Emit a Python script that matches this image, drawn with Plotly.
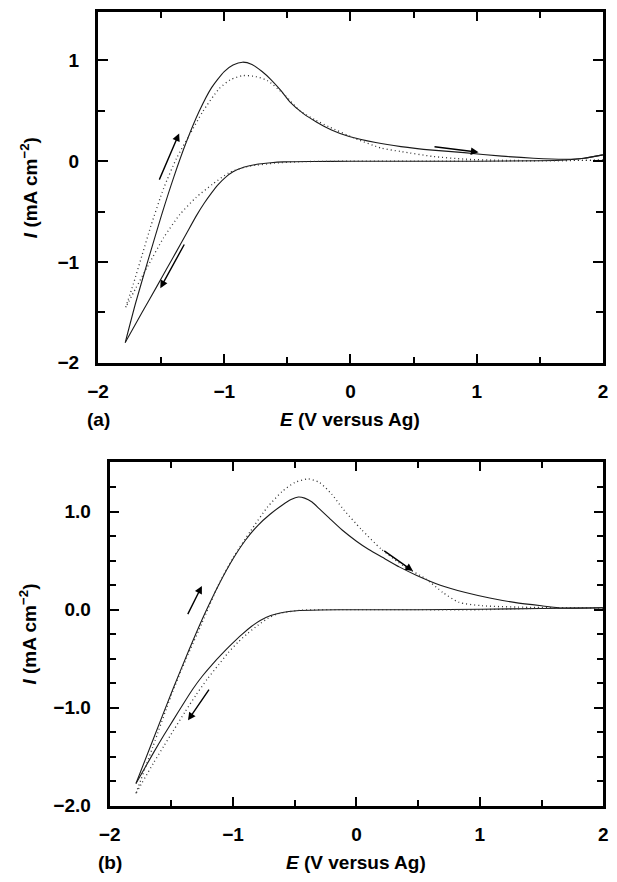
import plotly.graph_objects as go

# ---------------- data ----------------
# panel (a)
a_solid_cath_E = [2.0, 1.85, 1.7, 1.5, 1.0, 0.5, 0.0, -0.3, -0.53, -0.63, -0.75, -0.84, -0.93, -0.99,
                  -1.05, -1.10, -1.16, -1.22, -1.30, -1.38, -1.45, -1.53, -1.65, -1.784]
a_solid_cath_I = [0.063, 0.03, 0.012, 0.004, 0.0, 0.0, 0.0, -0.003, -0.007, -0.015, -0.032, -0.058, -0.105, -0.16,
                  -0.235, -0.315, -0.42, -0.54, -0.72, -0.90, -1.055, -1.235, -1.50, -1.80]
a_solid_an_E = [-1.784, -1.70, -1.60, -1.50, -1.40, -1.30, -1.20, -1.10, -1.00, -0.93, -0.855, -0.78, -0.70,
                -0.63, -0.55, -0.48, -0.37, -0.27, -0.15, -0.01, 0.2, 0.4, 0.65, 0.9, 1.2, 1.45, 1.7, 1.85, 2.0]
a_solid_an_I = [-1.80, -1.40, -0.97, -0.55, -0.16, 0.19, 0.49, 0.73, 0.89, 0.955, 0.983, 0.96, 0.89,
                0.81, 0.70, 0.59, 0.47, 0.39, 0.31, 0.245, 0.185, 0.145, 0.11, 0.085, 0.05, 0.03, 0.02, 0.03, 0.063]
a_dot_cath_E = [2.0, 1.5, 1.0, 0.5, 0.0, -0.4, -0.6, -0.75, -0.84, -0.966, -1.094, -1.223, -1.352, -1.48,
                -1.609, -1.70, -1.78]
a_dot_cath_I = [0.01, 0.005, 0.0, 0.0, 0.0, -0.005, -0.02, -0.04, -0.06, -0.117, -0.23, -0.36, -0.53, -0.76,
                -1.05, -1.26, -1.45]
a_dot_an_E = [-1.78, -1.72, -1.65, -1.58, -1.48, -1.377, -1.275, -1.171, -1.043, -0.95, -0.85, -0.75, -0.657,
              -0.529, -0.40, -0.28, -0.168, 0.037, 0.243, 0.40, 0.654, 0.912, 1.17, 1.5, 2.0]
a_dot_an_I = [-1.45, -1.22, -0.93, -0.64, -0.27, 0.03, 0.26, 0.49, 0.716, 0.81, 0.85, 0.84, 0.80,
              0.667, 0.50, 0.41, 0.34, 0.226, 0.13, 0.096, 0.047, 0.02, 0.01, 0.005, 0.01]

# panel (b)
b_solid_cath_E = [2.0, 1.5, 1.0, 0.5, 0.0, -0.3, -0.485, -0.6, -0.695, -0.78, -0.852, -0.93, -1.01, -1.09,
                  -1.168, -1.25, -1.326, -1.40, -1.484, -1.56, -1.642, -1.787]
b_solid_cath_I = [0.02, 0.012, 0.005, 0.0, 0.0, -0.003, -0.01, -0.028, -0.06, -0.11, -0.172, -0.255, -0.35, -0.452,
                  -0.558, -0.68, -0.81, -0.955, -1.125, -1.28, -1.455, -1.775]
b_solid_an_E = [-1.787, -1.64, -1.484, -1.36, -1.24, -1.12, -1.00, -0.90, -0.80, -0.70, -0.60, -0.53, -0.471,
                -0.42, -0.36, -0.30, -0.22, -0.116, 0.0, 0.1, 0.21, 0.35, 0.489, 0.68, 0.884, 1.08, 1.279,
                1.5, 1.673, 2.0]
b_solid_an_I = [-1.775, -1.30, -0.80, -0.42, -0.07, 0.245, 0.52, 0.71, 0.86, 0.975, 1.07, 1.125, 1.151,
                1.14, 1.10, 1.03, 0.935, 0.814, 0.70, 0.615, 0.535, 0.435, 0.35, 0.25, 0.176, 0.12, 0.075,
                0.04, 0.017, 0.02]
b_dot_cath_E = [2.0, 1.5, 1.0, 0.5, 0.0, -0.45, -0.642, -0.72, -0.80, -0.88, -0.958, -1.04, -1.116, -1.21,
                -1.30, -1.39, -1.484, -1.56, -1.642, -1.787]
b_dot_cath_I = [0.02, 0.015, 0.0, 0.0, 0.0, -0.005, -0.043, -0.09, -0.16, -0.24, -0.329, -0.44, -0.56, -0.71,
                -0.87, -1.045, -1.235, -1.39, -1.56, -1.876]
b_dot_an_E = [-1.787, -1.65, -1.50, -1.38, -1.25, -1.12, -0.99, -0.86, -0.72, -0.60, -0.50, -0.392, -0.30,
              -0.20, -0.116, 0.04, 0.2, 0.384, 0.568, 0.70, 0.831, 1.015, 1.41, 2.0]
b_dot_an_I = [-1.876, -1.40, -0.87, -0.50, -0.13, 0.25, 0.55, 0.80, 1.05, 1.21, 1.30, 1.336, 1.30,
              1.18, 1.04, 0.82, 0.62, 0.445, 0.31, 0.176, 0.075, 0.041, 0.024, 0.02]

# scan-direction arrows: (tail E, tail I, head E, head I)
a_arrows = [(-1.519, -0.198, -1.357, 0.275), (-1.31, -0.812, -1.506, -1.26), (0.654, 0.145, 1.015, 0.089)]
b_arrows = [(-1.373, -0.06, -1.253, 0.243), (-1.187, -0.80, -1.365, -1.13), (0.213, 0.612, 0.458, 0.395)]

x_ticks = [-2, -1, 0, 1, 2]
a_y_ticks = [-2, -1, 0, 1]
b_y_ticks = [-2.0, -1.0, 0.0, 1.0]

# ---------------- figure ----------------
FONT = "Liberation Sans"
SOLID = dict(color="#1a1a1a", width=1.1, shape="spline", smoothing=0.6)
DOTTED = dict(color="#333333", width=1.3, dash="1px,3px", shape="spline", smoothing=0.6)

fig = go.Figure()
for E, I, ln, xa, ya in [
    (a_solid_cath_E, a_solid_cath_I, SOLID, "x", "y"),
    (a_solid_an_E, a_solid_an_I, SOLID, "x", "y"),
    (a_dot_cath_E, a_dot_cath_I, DOTTED, "x", "y"),
    (a_dot_an_E, a_dot_an_I, DOTTED, "x", "y"),
    (b_solid_cath_E, b_solid_cath_I, SOLID, "x2", "y2"),
    (b_solid_an_E, b_solid_an_I, SOLID, "x2", "y2"),
    (b_dot_cath_E, b_dot_cath_I, DOTTED, "x2", "y2"),
    (b_dot_an_E, b_dot_an_I, DOTTED, "x2", "y2"),
]:
    fig.add_trace(go.Scatter(x=E, y=I, mode="lines", line=ln, xaxis=xa, yaxis=ya,
                             showlegend=False, hoverinfo="skip"))

tickfont = dict(family=FONT, size=19, color="black", weight="bold")
common = dict(showline=True, linewidth=3, linecolor="black", mirror="ticks",
              ticks="inside", tickwidth=2.2, tickcolor="black", showgrid=False,
              zeroline=False, tickfont=tickfont)
MINOR = dict(ticks="inside", tickwidth=2.2, tickcolor="black", tick0=0)

fig.update_layout(
    width=617, height=882, margin=dict(l=0, r=0, t=0, b=0),
    paper_bgcolor="white", plot_bgcolor="white", showlegend=False,
    xaxis=dict(domain=[0.1447, 0.9849], range=[-2, 2], anchor="y", tickvals=x_ticks, ticklen=9,
               ticklabelstandoff=10, minor=dict(dtick=0.5, ticklen=6, **MINOR), **common),
    yaxis=dict(domain=[0.5836, 0.9861], range=[-2, 1.48], anchor="x", tickvals=a_y_ticks, ticklen=10,
               ticklabelstandoff=12, minor=dict(dtick=0.5, ticklen=7, **MINOR), **common),
    xaxis2=dict(domain=[0.1642, 0.9854], range=[-2, 2], anchor="y2", tickvals=x_ticks, ticklen=9,
                ticklabelstandoff=10, minor=dict(dtick=0.5, ticklen=6, **MINOR), **common),
    yaxis2=dict(domain=[0.0752, 0.4697], range=[-2, 1.51], anchor="x2", tickvals=b_y_ticks,
                tickformat=".1f", ticklen=9, ticklabelstandoff=12,
                minor=dict(dtick=0.25, ticklen=6, **MINOR), **common),
)

labfont = dict(family=FONT, size=19, color="black", weight="bold")
ann = []
for (tE, tI, hE, hI) in a_arrows:
    ann.append(dict(x=hE, y=hI, ax=tE, ay=tI, xref="x", yref="y", axref="x", ayref="y", text="",
                    showarrow=True, arrowhead=2, arrowsize=1.1, arrowwidth=1.4, arrowcolor="black"))
for (tE, tI, hE, hI) in b_arrows:
    ann.append(dict(x=hE, y=hI, ax=tE, ay=tI, xref="x2", yref="y2", axref="x2", ayref="y2", text="",
                    showarrow=True, arrowhead=2, arrowsize=1.1, arrowwidth=1.4, arrowcolor="black"))
ann += [
    dict(text="<i>E</i> (V versus Ag)", x=0.5648, y=1 - 425 / 882, xref="paper", yref="paper",
         showarrow=False, font=labfont, xanchor="center", yanchor="middle"),
    dict(text="(a)", x=90 / 617, y=1 - 425 / 882, xref="paper", yref="paper",
         showarrow=False, font=labfont, xanchor="center", yanchor="middle"),
    dict(text="<i>E</i> (V versus Ag)", x=0.5747, y=1 - 873 / 882, xref="paper", yref="paper",
         showarrow=False, font=labfont, xanchor="center", yanchor="middle"),
    dict(text="(b)", x=101.7 / 617, y=1 - 873 / 882, xref="paper", yref="paper",
         showarrow=False, font=labfont, xanchor="center", yanchor="middle"),
    dict(text="<i>I</i> (mA cm<sup>−2</sup>)", x=18 / 617, y=1 - 190 / 882, xref="paper", yref="paper",
         showarrow=False, font=labfont, textangle=-90, xanchor="center", yanchor="middle"),
    dict(text="<i>I</i> (mA cm<sup>−2</sup>)", x=17 / 617, y=1 - 642 / 882, xref="paper", yref="paper",
         showarrow=False, font=labfont, textangle=-90, xanchor="center", yanchor="middle"),
]
fig.update_layout(annotations=ann)

fig.write_html("out.html", config={"displayModeBar": False},
               post_script="document.body.style.margin='0';")
